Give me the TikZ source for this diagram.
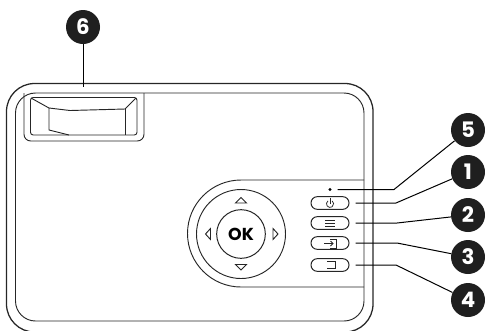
\documentclass[tikz,border=0pt]{standalone}
\usepackage{amsmath}
\usepackage{fontspec}
\setsansfont{Poppins}
\usepackage{tikz}
\tikzset{
	callout/.style={circle,fill=black!88,text=white,inner sep=0pt,minimum size=25.5pt,font=\sffamily\bfseries\fontsize{16}{16}\selectfont},
	body/.style={black!85,line width=0.95pt},
	panel/.style={black!85,line width=0.7pt},
	leader/.style={black,line width=0.75pt},
	pill/.style={draw=black!85,line width=0.75pt,rounded corners=4.7pt,minimum width=28.5pt,minimum height=9.5pt,inner sep=0pt},
	glyph/.style={black!85,line width=0.55pt}
}
\begin{document}
\begin{tikzpicture}[x=0.75pt,y=-0.75pt]
				\useasboundingbox (0,0) rectangle (485,330);
				\clip (0,0) rectangle (485,330);
				\draw[body,rounded corners=21pt] (6.5,83.5) rectangle (373,332);
				\draw[panel,rounded corners=15pt] (15.5,93) rectangle (364,321);
				\draw[panel,rounded corners=5pt] (24,93) -- (24,141) -- (144,141) -- (144,93);
				\draw[panel,rounded corners=2pt] (30.5,97.5) rectangle (137,135);
				\draw[panel] (31,98) -- (49,108) -- (70,110.5) -- (125,109) -- (136,98);
				\draw[panel] (49,108) -- (49,130) -- (69,135);
				\draw[panel] (125,109) -- (125,135);
				\draw[panel] (364,180) -- (241,180) arc (-90:-270:53.5) -- (364,287);
				\draw[panel] (241,234) circle (44.5);
				\node[circle,draw=black!85,line width=0.75pt,minimum size=36.5pt,inner sep=0pt,font=\sffamily\bfseries\fontsize{13}{13}\selectfont] (ok) at (241,234) {OK};
				\draw[panel] (235.5,203) -- (246.5,203) -- (241,197.5) -- cycle;
				\draw[panel] (235.5,264.5) -- (246.5,264.5) -- (241,270) -- cycle;
				\draw[panel] (210.5,228.5) -- (210.5,239.5) -- (205.5,234) -- cycle;
				\draw[panel] (273,228.5) -- (273,239.5) -- (278,234) -- cycle;
				\node[pill] (power) at (330,203) {};
				\node[pill] (menu) at (330,223) {};
				\node[pill] (source) at (330,243) {};
				\node[pill] (back) at (330,265) {};
				\fill[black] (330,189.5) circle (1.6);
				\coordinate (led) at (337.5,189.5);
				\draw[glyph] (328,200.9) arc (-125:-415:3.6);
				\draw[glyph] (330,198) -- (330,203.5);
				\foreach \y in {220,223,226}
					\draw[glyph] (325,\y) -- (335,\y);
				\draw[glyph] (324,243.5) -- (333,243.5);
				\draw[glyph] (330.5,241) -- (333,243.5) -- (330.5,246);
				\draw[glyph] (330,239) -- (336,239) -- (336,248) -- (330,248);
				\draw[glyph] (327,261) -- (335.5,261) -- (335.5,268.5) -- (327,268.5);
				\node[callout] (n5) at (468,130) {5};
				\node[callout] (n1) at (468,172) {1};
				\node[callout] (n2) at (468,215) {2};
				\node[callout] (n3) at (468,257) {3};
				\node[callout] (n4) at (468,300) {4};
				\node[callout] (n6) at (83,27) {6};
				\coordinate (lens) at (83,87);
				\draw[leader] (led) -- (394,189.5) -- (n5);
				\draw[leader] (power.east) ++(6,0) -- (396,203) -- (n1);
				\draw[leader] (menu.east) ++(6,0) -- (397,223) -- (n2);
				\draw[leader] (source.east) ++(6,0) -- (397,243) -- (n3);
				\draw[leader] (back.east) ++(6,0) -- (396,265) -- (n4);
				\draw[leader] (n6) -- (lens);
			\end{tikzpicture}
\end{document}
